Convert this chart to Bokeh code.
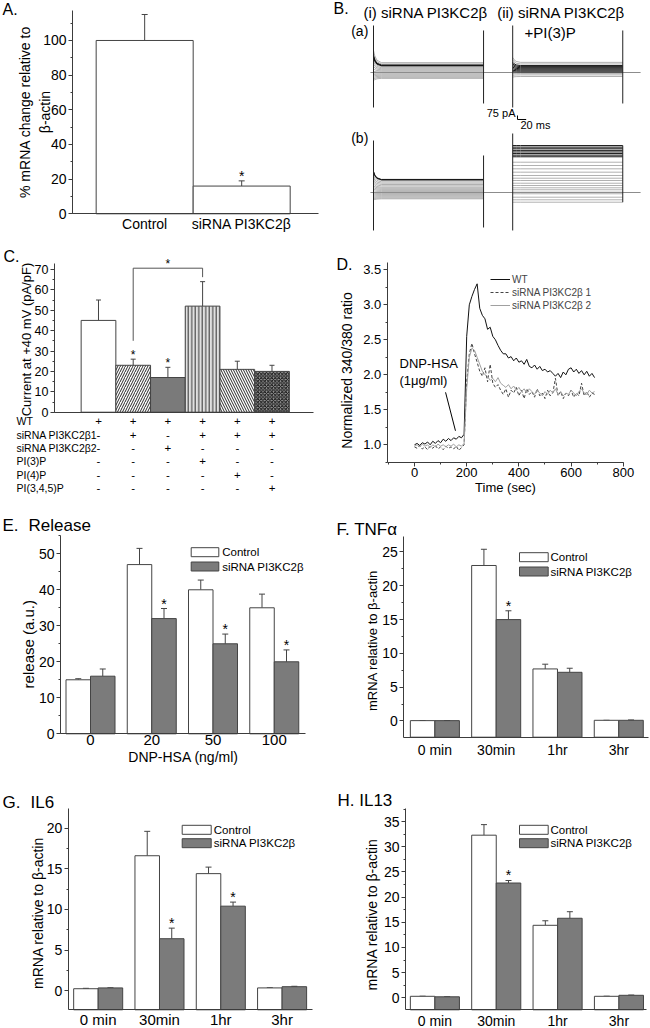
import numpy as np
from bokeh.plotting import figure
from bokeh.models import (Range1d, Label, LabelSet, ColumnDataSource, Whisker, TeeHead,
                          SingleIntervalTicker, FixedTicker, BoxAnnotation, Legend, LegendItem,
                          Arrow, PrintfTickFormatter)
from bokeh.layouts import column, row
from bokeh.embed import file_html
from bokeh.resources import INLINE
from bokeh.core.properties import value

FONT = "Liberation Sans"
AXC = "#3c3c3c"
EDGE = "#444444"
DARK = "#7b7b7b"

# ---------------- data ----------------
# A
a_labels = ["Control", "siRNA PI3KC2\u03b2"]
a_values = [100, 16]
a_err = [15, 3]
a_sig = [False, True]

# B (current traces, pA / ms)
b_pulse_ms = 253
b_start_ms = [0, 320]
b_baseline_ms = [-7, 614]
b_row_offset_pa = [2250, 0]
b_ai_dark = [140, 133, 126]
b_ai_gray = [185, 160, 110, 90, 70, 50, 30, 10, -10, -30, -50, -70, -90, -110]
b_aii_dark = [130, 110, 90, 70, 50, 30, 10]
b_aii_gray = [190, 160, -20, -45, -75]
b_bi_dark = [245, 238]
b_bi_gray = [225, 200, 175, 150, 125, 100, 80, 60, 40, 20, 0, -20, -40, -60, -80, -100, -118]
b_bii_dark = [880, 850, 820, 790, 760, 730, 700, 670]
b_bii_gray = [568, 506, 444, 381, 319, 268, 225, 174, 131, 88, 51, 6, -24, -88, -137, -182]
b_trans_pa = [230, 90, 150, 0]
b_decay_ms = [0, 3, 8, 18]
b_decay_frac = [1.0, 0.55, 0.2, 0.0]
b_spike_start_top = [881, 881, 975, 1106]
b_spike_start_bot = [-656, -656, -712, -712]
b_spike_end_top = [788, 788, 694, 880]
b_spike_end_bot = [-581, -581, -656, -182]
b_scale_pa = 75
b_scale_ms = 20
b_scale_at = [331, 1369]

# C
c_values = [45, 23, 17, 52, 21, 20]
c_err = [10, 3, 5, 12, 4, 3]
c_sig = [False, True, True, False, False, False]
c_bracket = [2, 4]
c_bracket_y = 70.6
c_bracket_gap = [9, 2.2]
c_rows = ["WT", "siRNA PI3KC2\u03b21", "siRNA PI3KC2\u03b22", "PI(3)P", "PI(4)P", "PI(3,4,5)P"]
c_table = [["+", "+", "+", "+", "+", "+"],
           ["-", "+", "-", "+", "+", "+"],
           ["-", "-", "+", "-", "-", "-"],
           ["-", "-", "-", "+", "-", "-"],
           ["-", "-", "-", "-", "+", "-"],
           ["-", "-", "-", "-", "-", "+"]]

# D
d_time = list(range(0, 700, 10))
d_wt = [1.00, 1.02, 0.99, 1.03, 1.01, 1.04, 1.00, 1.05, 1.02, 1.06,
        1.03, 1.08, 1.05, 1.09, 1.06, 1.10, 1.08, 1.12, 1.10, 1.15,
        2.55, 3.00, 3.12, 3.22, 3.30, 2.95, 2.85, 2.80, 2.65, 2.68,
        2.55, 2.50, 2.42, 2.35, 2.30, 2.30, 2.24, 2.26, 2.20, 2.24,
        2.18, 2.20, 2.15, 2.22, 2.12, 2.10, 2.14, 2.08, 2.12, 2.06,
        2.08, 2.04, 2.06, 2.02, 1.98, 2.02, 1.96, 2.04, 2.00, 2.08,
        2.10, 2.04, 2.08, 2.02, 2.06, 2.00, 2.05, 1.98, 2.02, 1.96]
d_si1 = [0.97, 0.95, 0.99, 0.94, 0.97, 0.93, 0.98, 0.95, 0.99, 0.94,
         0.97, 0.93, 0.98, 0.95, 0.97, 0.94, 0.98, 0.92, 0.96, 1.00,
         1.90, 2.30, 2.45, 2.30, 2.18, 2.05, 1.98, 2.10, 1.90, 2.15,
         1.88, 1.82, 1.86, 1.78, 1.72, 1.80, 1.68, 1.78, 1.74, 1.82,
         1.70, 1.78, 1.66, 1.80, 1.72, 1.76, 1.68, 1.80, 1.70, 1.74,
         1.66, 1.78, 1.70, 1.74, 1.95, 1.70, 1.76, 1.66, 1.74, 1.70,
         1.78, 1.68, 1.74, 1.70, 1.88, 1.70, 1.76, 1.68, 1.74, 1.72]
d_si2 = [0.98, 1.00, 0.97, 1.01, 0.98, 1.00, 0.96, 1.00, 0.97, 1.01,
         0.98, 1.00, 0.97, 1.00, 0.98, 1.01, 0.97, 1.00, 0.98, 1.02,
         1.80, 2.25, 2.38, 2.35, 2.25, 2.15, 2.05, 2.00, 1.98, 1.92,
         1.95, 1.90, 1.96, 1.88, 1.85, 1.82, 1.86, 1.80, 1.84, 1.78,
         1.82, 1.76, 1.80, 1.74, 1.80, 1.76, 1.72, 1.78, 1.74, 1.70,
         1.76, 1.72, 1.78, 1.74, 1.80, 1.72, 1.76, 1.70, 1.74, 1.72,
         1.78, 1.74, 1.70, 1.76, 1.80, 1.74, 1.72, 1.78, 1.74, 1.76]
d_series = ["WT", "siRNA PI3KC2\u03b2 1", "siRNA PI3KC2\u03b2 2"]
d_arrow = [119, 1.75, 157, 1.2]

# E
e_cats = ["0", "20", "50", "100"]
e_ctrl = [15, 47, 40, 35]
e_ctrl_err = [0.3, 4.5, 2.7, 3.8]
e_si = [16, 32, 25, 20]
e_si_err = [2, 2.8, 2.7, 3.3]
e_si_sig = [False, True, True, True]

# F
f_cats = ["0 min", "30min", "1hr", "3hr"]
f_ctrl = [0.05, 23, 7.7, 0.1]
f_ctrl_err = [0.0, 2.4, 0.7, 0.0]
f_si = [0.05, 15, 7.2, 0.1]
f_si_err = [0.0, 1.3, 0.6, 0.05]
f_si_sig = [False, True, False, False]

# G
g_cats = ["0 min", "30min", "1hr", "3hr"]
g_ctrl = [0.25, 16.6, 14.4, 0.35]
g_ctrl_err = [0.05, 3.0, 0.8, 0.02]
g_si = [0.35, 6.4, 10.4, 0.5]
g_si_err = [0.02, 1.3, 0.5, 0.05]
g_si_sig = [False, True, True, False]

# H
h_cats = ["0 min", "30min", "1hr", "3hr"]
h_ctrl = [0.3, 32.3, 14.4, 0.3]
h_ctrl_err = [0.02, 2.1, 0.9, 0.02]
h_si = [0.2, 22.8, 15.8, 0.5]
h_si_err = [0.02, 0.5, 1.3, 0.05]
h_si_sig = [False, True, False, False]

legend_labels = ["Control", "siRNA PI3KC2\u03b2"]


# ---------------- helpers ----------------
def panel(W, H, box, xdata, ydata, axes=True):
    """Figure whose frame is the whole canvas; the data box (L,R,T,B px) carries the axes."""
    L, R, T, B = box
    x0, x1 = xdata
    y0, y1 = ydata
    xpp = (x1 - x0) / (R - L)
    ypp = (y1 - y0) / (B - T)
    xr = (x0 - L * xpp, x1 + (W - R) * xpp)
    yr = (y0 - (H - B) * ypp, y1 + T * ypp)
    kw = {} if axes else dict(x_axis_location=None, y_axis_location=None)
    p = figure(width=W, height=H, x_range=Range1d(*xr), y_range=Range1d(*yr),
               output_backend="svg", toolbar_location=None,
               min_border_left=0, min_border_right=0, min_border_top=0, min_border_bottom=0, **kw)
    p.outline_line_color = None
    p.grid.visible = False
    p.background_fill_color = "white"
    p.border_fill_color = "white"
    if axes:
        p.xaxis.fixed_location = y0
        p.xaxis.bounds = (x0, x1)
        p.yaxis.fixed_location = x0
        p.yaxis.bounds = (y0, y1)
        for ax in (p.xaxis, p.yaxis):
            ax.axis_line_color = AXC
            ax.major_tick_line_color = AXC
            ax.minor_tick_line_color = AXC
            ax.major_label_text_font = FONT
            ax.major_label_text_color = "black"
        p.yaxis.major_tick_in = 0
        p.yaxis.major_tick_out = 4
        p.yaxis.minor_tick_in = 0
        p.yaxis.minor_tick_out = 2
        p.yaxis.major_label_standoff = 2
    return p


def lab(p, x, y, text, size, align="left", baseline="middle", angle=0.0, color="black"):
    p.add_layout(Label(x=x, y=p.height - y, x_units="screen", y_units="screen", text=text,
                       text_font=FONT, text_font_size=f"{size}px", text_align=align,
                       text_baseline=baseline, angle=angle, text_color=color))


def legend_box(p, x1, x2, yc, fill, text, size, tx):
    H = p.height
    p.add_layout(BoxAnnotation(left=x1, right=x2, bottom=H - (yc + 4.5), top=H - (yc - 4.5),
                               left_units="screen", right_units="screen",
                               top_units="screen", bottom_units="screen",
                               fill_color=fill, fill_alpha=1.0, line_color=EDGE,
                               line_alpha=1.0, line_width=1))
    lab(p, tx, yc, text, size)


def cat_xaxis(p, cats, size, standoff):
    p.xaxis.ticker = FixedTicker(ticks=list(range(len(cats))))
    p.xaxis.major_label_overrides = {i: c for i, c in enumerate(cats)}
    p.xaxis.major_tick_line_color = None
    p.xaxis.minor_tick_line_color = None
    p.xaxis.major_tick_out = 0
    p.xaxis.major_tick_in = 0
    p.xaxis.minor_tick_out = 0
    p.xaxis.minor_tick_in = 0
    p.xaxis.major_label_text_font_size = f"{size}px"
    p.xaxis.major_label_standoff = standoff


def err_bars(p, xs, lows, ups, head=6):
    src = ColumnDataSource(dict(x=list(xs), lower=list(lows), upper=list(ups)))
    p.add_layout(Whisker(source=src, base="x", lower="lower", upper="upper",
                         lower_head=None, upper_head=TeeHead(size=head, line_color=EDGE, line_width=1),
                         line_color=EDGE, line_width=1))


def stars(p, xs, ys, size=14, off=-5):
    if len(xs) == 0:
        return
    p.text(x=list(xs), y=list(ys), text=["*"] * len(xs), text_font=value(FONT),
           text_font_size=value(f"{size}px"), text_align="center", text_baseline="middle",
           y_offset=off, text_color="black")


def bar_panel(W, H, box, xdata, ydata, cats, ctrl, ctrl_err, si, si_err, si_sig,
              yint, yfont, xfont, xstand):
    p = panel(W, H, box, xdata, ydata)
    x = np.arange(len(cats), dtype=float)
    base = ydata[0]
    p.vbar(x=x - 0.2, bottom=base, top=ctrl, width=0.4, fill_color="white", line_color=EDGE, line_width=1)
    p.vbar(x=x + 0.2, bottom=base, top=si, width=0.4, fill_color=DARK, line_color=EDGE, line_width=1)
    xs = list(x - 0.2) + list(x + 0.2)
    lows = list(ctrl) + list(si)
    ups = [v + e for v, e in zip(ctrl, ctrl_err)] + [v + e for v, e in zip(si, si_err)]
    err_bars(p, xs, lows, ups)
    sx = [xi + 0.2 for xi, s in zip(x, si_sig) if s]
    sy = [v + e for v, e, s in zip(si, si_err, si_sig) if s]
    stars(p, sx, sy)
    p.yaxis.ticker = SingleIntervalTicker(interval=yint, num_minor_ticks=2)
    p.yaxis.major_label_text_font_size = f"{yfont}px"
    cat_xaxis(p, cats, xfont, xstand)
    return p


# ---------------- A  (canvas 320x232 at 0,0) ----------------
pA = panel(320, 232, (72, 318, 10, 213.3), (-0.744, 1.792), (0, 117.3))
pA.vbar(x=[0, 1], top=a_values, bottom=0, width=1.0, fill_color="white", line_color=EDGE, line_width=1)
err_bars(pA, [0, 1], a_values, [v + e for v, e in zip(a_values, a_err)])
stars(pA, [i for i, s in enumerate(a_sig) if s],
      [v + e for v, e, s in zip(a_values, a_err, a_sig) if s])
pA.yaxis.ticker = SingleIntervalTicker(interval=20, num_minor_ticks=2)
pA.yaxis.major_label_text_font_size = "14px"
cat_xaxis(pA, a_labels, 14, 2)
lab(pA, 2, 9, "A.", 16)
lab(pA, 24, 111.5, "% mRNA change relative to", 14, align="center", angle=np.pi / 2)
lab(pA, 44.5, 111.5, "\u03b2-actin", 14, align="center", angle=np.pi / 2)

# ---------------- B  (canvas 330x232 at 320,0) ----------------
B_PX_PER_MS = 0.435
B_PA_PER_PX = 18.75
pB = panel(330, 232, (53, 53 + 100 * B_PX_PER_MS, 40, 192),
           (0, 100), (0, 152 * B_PA_PER_PX), axes=False)
pB.y_range.start = -40 * B_PA_PER_PX
pB.y_range.end = 192 * B_PA_PER_PX
fam_dark = [b_ai_dark, b_aii_dark, b_bi_dark, b_bii_dark]
fam_gray = [b_ai_gray, b_aii_gray, b_bi_gray, b_bii_gray]
fam_pos = [(0, 0), (0, 1), (1, 0), (1, 1)]
for rr in range(2):
    off = b_row_offset_pa[rr]
    pB.segment(x0=[b_baseline_ms[0]], y0=[off], x1=[b_baseline_ms[1]], y1=[off],
               line_color="#8c8c8c", line_width=1.2)
for k, (rr, cc) in enumerate(fam_pos):
    off = b_row_offset_pa[rr]
    t0 = b_start_ms[cc]
    allv = fam_dark[k] + fam_gray[k]
    mx = max(allv)
    for levels, colr, lw in ((fam_gray[k], "#8f8f8f", 0.7), (fam_dark[k], "#151515", 1.0)):
        xs_l, ys_l = [], []
        for lv in levels:
            tr = b_trans_pa[k] * lv / mx if lv > 0 else 0.3 * b_trans_pa[k] * lv / mx
            xs_l.append([t0 + d for d in b_decay_ms] + [t0 + b_pulse_ms])
            ys_l.append([off + lv + tr * f for f in b_decay_frac] + [off + lv])
        pB.multi_line(xs=xs_l, ys=ys_l, line_color=colr, line_width=lw)
    pB.segment(x0=[t0, t0 + b_pulse_ms], y0=[off + b_spike_start_bot[k], off + b_spike_end_bot[k]],
               x1=[t0, t0 + b_pulse_ms], y1=[off + b_spike_start_top[k], off + b_spike_end_top[k]],
               line_color="#222222", line_width=1)
sxb, syb = b_scale_at
pB.segment(x0=[sxb, sxb], y0=[syb, syb], x1=[sxb, sxb + b_scale_ms], y1=[syb + b_scale_pa, syb],
           line_color="black", line_width=1)
lab(pB, 13, 8.3, "B.", 16)
lab(pB, 43, 11.7, "(i) siRNA PI3KC2\u03b2", 15)
lab(pB, 176.7, 11.7, "(ii) siRNA PI3KC2\u03b2", 15)
lab(pB, 204, 31.7, "+PI(3)P", 15)
lab(pB, 30.7, 30, "(a)", 14)
lab(pB, 30.7, 137, "(b)", 14)
lab(pB, 195, 112, "75 pA", 11, align="right")
lab(pB, 200, 124, "20 ms", 11)

# ---------------- C  (canvas 320x268 at 0,232) ----------------
pC = panel(320, 268, (54, 313, 31, 179.7), (-0.268, 7.196), (0, 72.9))
cx = list(range(1, len(c_values) + 1))
c_fill = ["white", "white", "#7a7a7a", "#e0e0e0", "white", "#9a9a9a"]
c_hatch = [" ", "/", " ", "|", "\\", "x"]
c_hcol = ["black", "#2a2a2a", "black", "#333333", "#2a2a2a", "#111111"]
c_hscale = [4, 5, 4, 3.5, 5, 3.5]
c_src = ColumnDataSource(dict(x=cx, top=c_values, fill=c_fill, hatch=c_hatch, hcol=c_hcol,
                              hscale=c_hscale))
pC.vbar(x="x", top="top", bottom=0, width=1.0, source=c_src, fill_color="fill", line_color=EDGE,
        hatch_pattern="hatch", hatch_color="hcol", hatch_scale="hscale", hatch_weight=1.0)
err_bars(pC, cx, c_values, [v + e for v, e in zip(c_values, c_err)], head=5)
stars(pC, [x for x, s in zip(cx, c_sig) if s],
      [v + e for v, e, s in zip(c_values, c_err, c_sig) if s], size=12, off=-4)
bl, br = c_bracket
bly = c_values[bl - 1] + c_err[bl - 1] + c_bracket_gap[0]
bry = c_values[br - 1] + c_err[br - 1] + c_bracket_gap[1]
pC.segment(x0=[bl, bl, br], y0=[bly, c_bracket_y, c_bracket_y], x1=[bl, br, br],
           y1=[c_bracket_y, c_bracket_y, bry], line_color="#555555", line_width=1)
stars(pC, [(bl + br) / 2], [c_bracket_y], size=12, off=-4)
pC.yaxis.ticker = SingleIntervalTicker(interval=10, num_minor_ticks=2)
pC.yaxis.major_label_text_font_size = "12.5px"
pC.xaxis.ticker = FixedTicker(ticks=[])
pC.xaxis.major_tick_out = 0
pC.xaxis.minor_tick_out = 0
lab(pC, 3, 24, "C.", 16)
lab(pC, 26, 107, "Current at +40 mV (pA/pF)", 13, align="center", angle=np.pi / 2)
row_y = [188.7, 202, 215.3, 228.7, 242, 255.3]
tx, ty, tt = [], [], []
for ri, (name, marks) in enumerate(zip(c_rows, c_table)):
    lab(pC, 16, row_y[ri], name, 10.5)
    for ci, m in enumerate(marks):
        tx.append(cx[ci])
        ty.append(pC.height - row_y[ri])
        tt.append(m)
pC.add_layout(LabelSet(x="x", y="y", text="t", x_units="data", y_units="screen",
                       source=ColumnDataSource(dict(x=tx, y=ty, t=tt)),
                       text_font=value(FONT), text_font_size=value("11.5px"),
                       text_align="center", text_baseline="middle", text_color="black"))

# ---------------- D  (canvas 330x268 at 320,232) ----------------
pD = panel(330, 268, (66.7, 303, 29.7, 230), (-104.6, 800.8), (0.747, 3.609))
r1 = pD.line(d_time, d_wt, line_color="#111111", line_width=1)
r2 = pD.line(d_time, d_si1, line_color="#444444", line_width=1, line_dash="3 2")
r3 = pD.line(d_time, d_si2, line_color="#a0a0a0", line_width=1)
pD.yaxis.ticker = SingleIntervalTicker(interval=0.5, num_minor_ticks=2)
pD.yaxis.formatter = PrintfTickFormatter(format="%.1f")
pD.yaxis.major_label_text_font_size = "13px"
pD.xaxis.ticker = SingleIntervalTicker(interval=200, num_minor_ticks=2)
pD.xaxis.major_label_text_font_size = "13px"
pD.xaxis.major_tick_in = 0
pD.xaxis.major_tick_out = 4
pD.xaxis.minor_tick_in = 0
pD.xaxis.minor_tick_out = 2
pD.xaxis.major_label_standoff = 1
leg = Legend(items=[LegendItem(label=d_series[0], renderers=[r1]),
                    LegendItem(label=d_series[1], renderers=[r2]),
                    LegendItem(label=d_series[2], renderers=[r3])],
             location=(170, 188.6), glyph_width=20, glyph_height=12, label_height=12,
             spacing=1, padding=0, margin=0, border_line_color=None, background_fill_alpha=0,
             label_text_font=FONT, label_text_font_size="10px", label_standoff=2)
pD.add_layout(leg)
pD.add_layout(Arrow(end=None, x_start=d_arrow[0], y_start=d_arrow[1], x_end=d_arrow[2],
                    y_end=d_arrow[3], line_color="black", line_width=1))
lab(pD, 16, 32, "D.", 16)
lab(pD, 26, 138, "Normalized 340/380 ratio", 14, align="center", angle=np.pi / 2)
lab(pD, 185, 255, "Time (sec)", 13, align="center")
lab(pD, 79, 131, "DNP-HSA", 13)
lab(pD, 79, 148, "(1\u03bcg/ml)", 13)

# ---------------- E  (canvas 320x272 at 0,500) ----------------
pE = bar_panel(320, 272, (60, 305, 35, 233.3), (-0.49, 3.51), (0, 55.08), e_cats, e_ctrl, e_ctrl_err,
               e_si, e_si_err, e_si_sig, 10, 14, 15, 1)
lab(pE, 2, 25, "E.", 17)
lab(pE, 28, 25, "Release", 17)
lab(pE, 28, 143.7, "release (a.u.)", 15, align="center", angle=np.pi / 2)
lab(pE, 183, 256, "DNP-HSA (ng/ml)", 14, align="center")
legend_box(pE, 190.7, 218.3, 51.7, "white", legend_labels[0], 11.5, 221.7)
legend_box(pE, 190.7, 218.3, 66, DARK, legend_labels[1], 11.5, 221.7)

# ---------------- F  (canvas 330x272 at 320,500) ----------------
pF = bar_panel(330, 272, (83.3, 328, 36, 236.7), (-0.507, 3.485), (-2.40, 27.29), f_cats, f_ctrl,
               f_ctrl_err, f_si, f_si_err, f_si_sig, 5, 14, 14, 5)
lab(pF, 16, 28.5, "F. TNF\u03b1", 17)
lab(pF, 51.5, 140, "mRNA relative to \u03b2-actin", 13, align="center", angle=np.pi / 2)
legend_box(pF, 199, 227.7, 56.7, "white", legend_labels[0], 11.5, 230)
legend_box(pF, 199, 227.7, 71, DARK, legend_labels[1], 11.5, 230)

# ---------------- G  (canvas 320x256 at 0,772) ----------------
pG = bar_panel(320, 256, (67.7, 311.7, 36.3, 237.3), (-0.489, 3.491), (-2.34, 22.37), g_cats, g_ctrl,
               g_ctrl_err, g_si, g_si_err, g_si_sig, 5, 14, 15, 1)
lab(pG, 2, 29.7, "G.", 17)
lab(pG, 30, 29.7, "IL6", 17)
lab(pG, 37.5, 140.5, "mRNA relative to \u03b2-actin", 14, align="center", angle=np.pi / 2)
legend_box(pG, 181.7, 210.7, 57.3, "white", legend_labels[0], 11.5, 213.3)
legend_box(pG, 181.7, 210.7, 70.7, DARK, legend_labels[1], 11.5, 213.3)

# ---------------- H  (canvas 330x256 at 320,772) ----------------
pH = bar_panel(330, 256, (85, 326, 36.3, 237.3), (-0.479, 3.449), (-2.38, 37.54), h_cats, h_ctrl,
               h_ctrl_err, h_si, h_si_err, h_si_sig, 5, 14, 14, 3)
lab(pH, 17, 28, "H. IL13", 17)
lab(pH, 51, 142, "mRNA relative to \u03b2-actin", 14, align="center", angle=np.pi / 2)
legend_box(pH, 199, 227.7, 57.3, "white", legend_labels[0], 11.5, 230)
legend_box(pH, 199, 227.7, 70.7, DARK, legend_labels[1], 11.5, 230)

layout = column(row(pA, pB, spacing=0), row(pC, pD, spacing=0), row(pE, pF, spacing=0),
                row(pG, pH, spacing=0), spacing=0)
open("out.html", "w").write(file_html(layout, INLINE))
